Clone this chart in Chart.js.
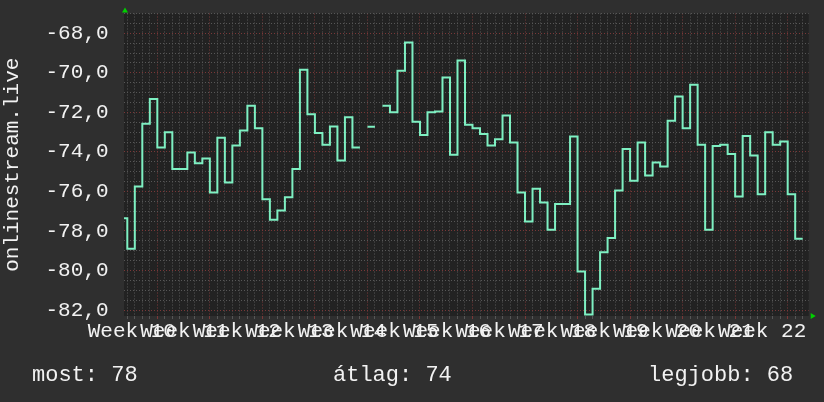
<!DOCTYPE html>
<html lang="hu">
<head>
    <meta charset="utf-8" />
    <title>onlinestream.live</title>
    <script src="https://cdnjs.cloudflare.com/ajax/libs/Chart.js/4.4.0/chart.umd.js"></script>
    <style>
        html, body { margin: 0; padding: 0; background: #2f2f2f; }
        #wrap { position: relative; width: 824px; height: 402px; }
        #chart { position: absolute; left: 0; top: 0; }
        .stat { position: absolute; top: 363px; font: 22px "Liberation Mono", monospace; line-height: 25px; color: #f2f2f2; white-space: pre; }
    </style>
</head>
<body>
<div id="wrap">
    <canvas id="chart" width="824" height="402"></canvas>
    <span class="stat" id="stat0" style="left:32px"></span>
    <span class="stat" id="stat1" style="left:333px"></span>
    <span class="stat" id="stat2" style="left:648px"></span>
</div>
<script>
// one value per day, first entry is the day starting 5 days before the first week line
const firstDay = -5;
const signal = [
    -77.35, -78.9, -75.75, -72.58, -71.32,
    -73.78, -73.0, -74.86, -74.86, -74.03, -74.57, -74.34,
    -76.05, -73.28, -75.55, -73.68, -72.92, -71.66, -72.8,
    -76.4, -77.43, -76.96, -76.29, -74.86, -69.85, -72.1,
    -73.05, -73.64, -72.72, -74.44, -72.25, -73.78, null,
    -72.73, null, -71.66, -72.0, -69.9, -68.47, -72.47,
    -73.14, -72.0, -71.96, -70.24, -74.15, -69.38, -72.63,
    -72.8, -73.09, -73.68, -73.36, -72.16, -73.53, -76.05,
    -77.52, -75.87, -76.56, -77.94, -76.63, -76.63, -73.22,
    -80.05, -82.23, -80.92, -79.07, -78.36, -75.95, -73.85,
    -75.46, -73.53, -75.2, -74.54, -74.74, -72.42, -71.2,
    -72.8, -70.61, -73.64, -77.94, -73.7, -73.64, -74.11,
    -76.26, -73.19, -74.18, -76.14, -73.0, -73.64, -73.48,
    -76.14, -78.39
];
const weekLabels = ['Week 10', 'Week 11', 'Week 12', 'Week 13', 'Week 14', 'Week 15', 'Week 16',
    'Week 17', 'Week 18', 'Week 19', 'Week 20', 'Week 21', 'Week 22'];
const firstLabelDay = -3.4;
const yTicks = [-82, -80, -78, -76, -74, -72, -70, -68];
const yTitle = 'onlinestream.live';
const stats = ['most: 78', 'átlag: 74', 'legjobb: 68'];

stats.forEach((s, i) => { document.getElementById('stat' + i).textContent = s; });

const xMin = -4.44, xMax = 86.8;
const yMin = -82.3, yMax = -67.0;

// step line: each day is a flat segment, gaps break the line
const points = [];
signal.forEach((v, i) => {
    const d = firstDay + i;
    if (v === null) {
        points.push({ x: d, y: null });
        return;
    }
    points.push({ x: d, y: v }, { x: d + 1, y: v });
});

const labelDays = weekLabels.map((l, i) => firstLabelDay + 7 * i);
const xTickValues = [];
for (let d = Math.ceil(xMin); d <= xMax; d++) xTickValues.push(d);
labelDays.forEach(d => xTickValues.push(d));
xTickValues.sort((a, b) => a - b);

const yGridValues = [];
for (let v = -82; v <= yMax; v += 0.5) yGridValues.push(v);

const tickFont = { family: 'Liberation Mono', size: 21 };
const red = '#7a3838';
const grey = '#575757';

const bgPlugin = {
    id: 'rrdBg',
    beforeDraw(chart) {
        const { ctx, chartArea: a } = chart;
        ctx.save();
        ctx.fillStyle = '#2f2f2f';
        ctx.fillRect(0, 0, chart.width, chart.height);
        ctx.fillStyle = '#222222';
        ctx.fillRect(a.left, a.top, a.right - a.left, a.bottom - a.top);
        ctx.restore();
    },
    afterDraw(chart) {
        const { ctx, chartArea: a } = chart;
        ctx.save();
        ctx.fillStyle = '#00d000';
        ctx.beginPath();
        ctx.moveTo(a.left + 1, a.top - 6);
        ctx.lineTo(a.left - 2, a.top - 1);
        ctx.lineTo(a.left + 4, a.top - 1);
        ctx.fill();
        ctx.beginPath();
        ctx.moveTo(a.right + 7, a.bottom);
        ctx.lineTo(a.right + 2, a.bottom - 3);
        ctx.lineTo(a.right + 2, a.bottom + 3);
        ctx.fill();
        ctx.restore();
    }
};

const ctx = document.getElementById('chart').getContext('2d');
new Chart(ctx, {
    type: 'line',
    data: {
        datasets: [{
            data: points,
            borderColor: '#7ef0c2',
            borderWidth: 2,
            pointRadius: 0,
            tension: 0,
            fill: false
        }]
    },
    options: {
        responsive: false,
        animation: false,
        layout: { padding: { left: 0, top: 13.5, right: 15.3, bottom: 46 } },
        plugins: { legend: { display: false }, tooltip: { enabled: false } },
        scales: {
            x: {
                type: 'linear',
                min: xMin,
                max: xMax,
                afterBuildTicks: s => { s.ticks = xTickValues.map(v => ({ value: v })); },
                afterFit: s => { s.height = 40; s.paddingLeft = 0; s.paddingRight = 0; },
                ticks: {
                    autoSkip: false,
                    maxRotation: 0,
                    minRotation: 0,
                    color: '#f2f2f2',
                    font: tickFont,
                    padding: 0,
                    callback: v => {
                        const i = labelDays.findIndex(d => Math.abs(d - v) < 1e-6);
                        return i >= 0 ? weekLabels[i] : '';
                    }
                },
                grid: {
                    color: c => {
                        const v = c.tick ? c.tick.value : 0.5;
                        if (!Number.isInteger(v)) return 'rgba(0,0,0,0)';
                        return v % 7 === 0 ? red : grey;
                    },
                    lineWidth: 1,
                    tickLength: 3
                },
                border: { display: false, dash: [1, 2] }
            },
            y: {
                min: yMin,
                max: yMax,
                afterBuildTicks: s => { s.ticks = yGridValues.map(v => ({ value: v })); },
                afterFit: s => { s.width = 124; s.paddingTop = 0; s.paddingBottom = 0; },
                ticks: {
                    autoSkip: false,
                    color: '#f2f2f2',
                    font: tickFont,
                    padding: 15.5,
                    callback: v => yTicks.includes(v) ? v.toFixed(1).replace('.', ',') : ''
                },
                grid: {
                    color: c => {
                        const v = c.tick ? c.tick.value : 0.5;
                        return yTicks.includes(v) ? red : grey;
                    },
                    lineWidth: 1,
                    drawTicks: false
                },
                border: { display: false, dash: [1, 2] },
                title: { display: true, text: yTitle, color: '#f2f2f2', font: tickFont, padding: 0 }
            }
        }
    },
    plugins: [bgPlugin]
});
</script>
</body>
</html>
